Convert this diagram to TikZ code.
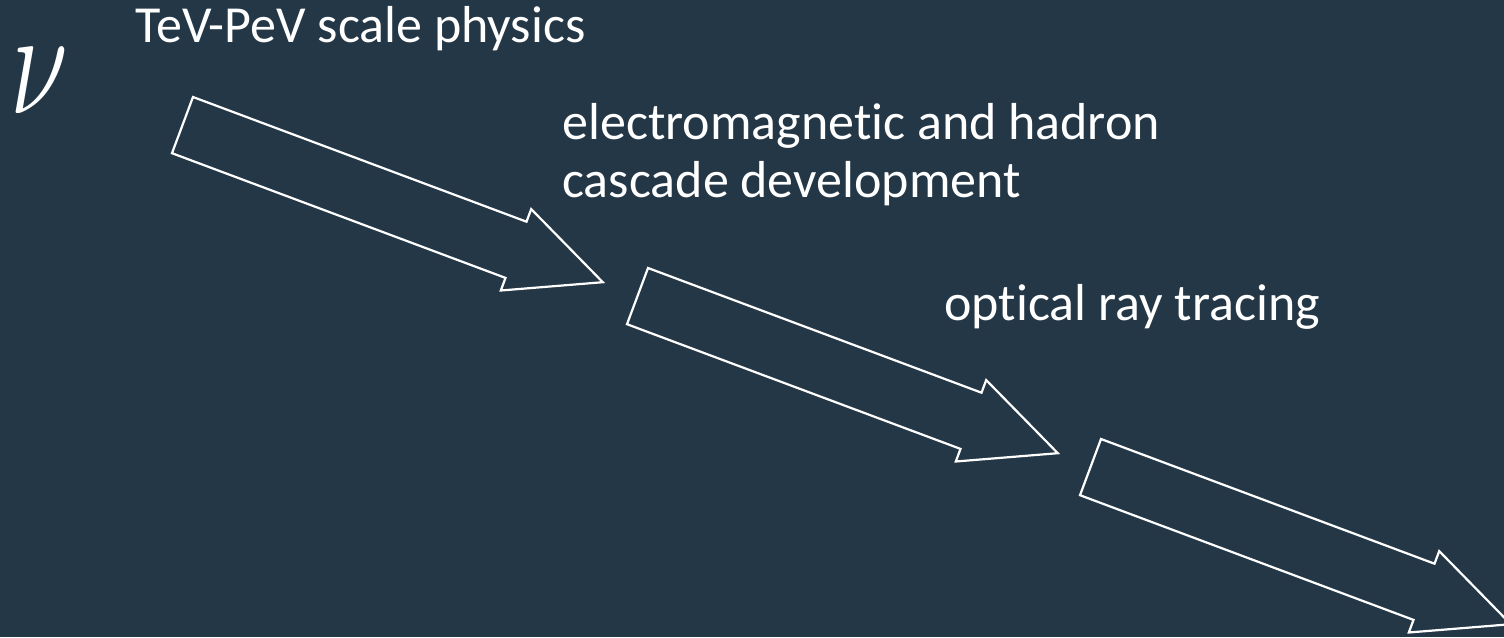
\RequirePackage{fix-cm}
\documentclass[tikz,border=0pt]{standalone}
\usepackage{graphicx}
\usepackage{fontspec}
\setmainfont{Carlito}[Ligatures=NoCommon]
\usepackage{tikz}
\usetikzlibrary{positioning}
\definecolor{SlateBG}{HTML}{243746}
\definecolor{PaleText}{HTML}{FFFFFF}

\begin{document}
\begin{tikzpicture}[
    x=0.5pt, y=-0.5pt,
    caption/.style={anchor=base west, inner sep=0pt, text=PaleText,
                    font=\fontsize{26}{29}\selectfont},
    flowarrow/.style={draw=PaleText, line width=1.1pt, line join=miter}
]

\fill[SlateBG] (0,0) rectangle (1504,637);
\useasboundingbox (0,0) rectangle (1504,637);

\node[inner sep=0pt, anchor=base west, text=PaleText,
      font=\fontsize{66}{66}\selectfont] (nu) at (10,113) {\scalebox{0.8}[1.15]{$\nu$}};

\node[caption] (c1) at (135,42) {TeV-PeV scale physics};
\node[caption] (c2) at (562,139) {electromagnetic and hadron};
\node[caption] (c2b) at (562,197) {cascade development};
\node[caption] (c3) at (944,320) {optical ray tracing};

% three outlined block arrows, each shifted down-right from the last
\foreach \sx/\sy in {193/97, 648/268, 1101/439}
  \draw[flowarrow, shift={(\sx,\sy)}]
    (0,0) -- (333.5,124.7) -- (338.2,112.1) -- (409.8,185.2)
    -- (307.8,193.5) -- (312.5,180.9) -- (-21,56.2) -- cycle;

\end{tikzpicture}
\end{document}
